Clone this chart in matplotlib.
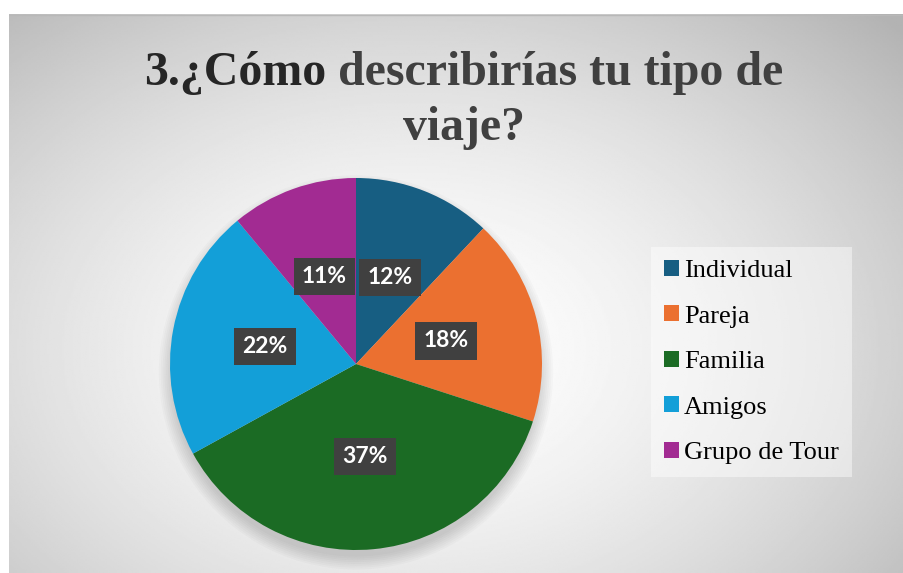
import numpy as np
import matplotlib.pyplot as plt
from matplotlib.patches import Patch, Circle

# datos del gráfico
categorias = ['Individual', 'Pareja', 'Familia', 'Amigos', 'Grupo de Tour']
valores = [12, 18, 37, 22, 11]
colores = ['#175E82', '#EB7030', '#1B6B24', '#139FD8', '#A22B92']

W, H = 904, 573
fig = plt.figure(figsize=(W / 100, H / 100), dpi=100)
fig.patch.set_facecolor('white')

# fondo con degradado radial (área del gráfico)
bg = fig.add_axes([9 / W, 0, 1 - 9 / W, (H - 14) / H])
bg.set_axis_off()
yy, xx = np.mgrid[0:1:300j, 0:1:500j]
r = np.sqrt(((xx - 0.45) / 0.75) ** 2 + ((yy - 0.40) / 0.85) ** 2)
img = 1.0 - 0.30 * np.clip(r, 0, 1) ** 1.6
bg.imshow(img, cmap='gray', vmin=0, vmax=1, extent=[0, 1, 0, 1], aspect='auto', origin='lower')
bg.plot([0, 1], [0.999, 0.999], color='#b8b8b8', lw=1)

# pastel
cx, cy, rad = 356, H - 364, 186
ax = fig.add_axes([(cx - rad) / W, (cy - rad) / H, 2 * rad / W, 2 * rad / H])
ax.set_xlim(-1, 1)
ax.set_ylim(-1, 1)
ax.set_axis_off()

# sombra suave (sobre todo hacia abajo)
for k in range(8):
    ax.add_patch(Circle((0, -0.045), 0.99 + 0.01 * k, color='black', alpha=0.018, lw=0,
                        zorder=0, clip_on=False))

wedges, texts, autotexts = ax.pie(
    valores, colors=colores, startangle=90, counterclock=False, radius=1,
    autopct='%1.0f%%', pctdistance=0.5,
    textprops=dict(color='white', fontsize=16.5, fontweight='bold', family=['Lato', 'DejaVu Sans']),
    wedgeprops=dict(linewidth=0, zorder=1))
for t in autotexts:
    t.set_bbox(dict(boxstyle='square,pad=0.36', facecolor='#404040', edgecolor='none'))
    t.set_zorder(5)
ax.set_xlim(-1, 1)
ax.set_ylim(-1, 1)

# leyenda
handles = [Patch(facecolor=c, edgecolor='none') for c in colores]
leg = fig.legend(handles, categorias, loc='center left', bbox_to_anchor=(651 / W, (H - 362) / H),
                 frameon=True, fancybox=False, framealpha=0.45, facecolor='white', edgecolor='none',
                 prop=dict(family='Liberation Serif', size=19), handlelength=0.55, handleheight=0.55,
                 handletextpad=0.2, labelspacing=0.88, borderpad=0.5, borderaxespad=0)

# título con dos colores
fig.canvas.draw()
renderer = fig.canvas.get_renderer()
titulo_font = dict(family='Liberation Serif', fontweight='bold', fontsize=34.5)
t1 = fig.text(0, (H - 85) / H, '3.¿Cómo', color='#262626', **titulo_font)
t2 = fig.text(0, (H - 85) / H, ' describirías tu tipo de', color='#404040', **titulo_font)
w1 = t1.get_window_extent(renderer).width
w2 = t2.get_window_extent(renderer).width
x0 = 464 - (w1 + w2) / 2
t1.set_x(x0 / W)
t2.set_x((x0 + w1) / W)
fig.text(464 / W, (H - 140) / H, 'viaje?', color='#404040', ha='center', **titulo_font)

plt.savefig('out.png', dpi=100)
